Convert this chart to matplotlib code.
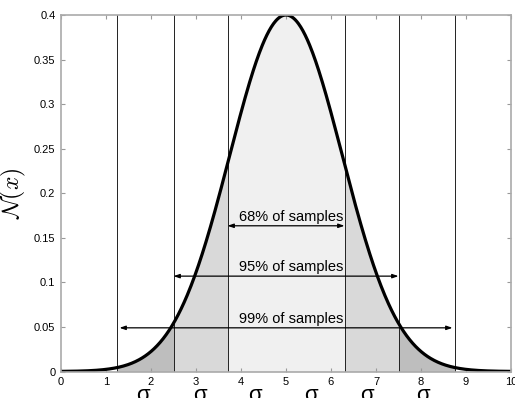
import numpy as np
import matplotlib
matplotlib.use("Agg")
import matplotlib.pyplot as plt

plt.rcParams['font.family'] = ['Liberation Sans', 'DejaVu Sans']
plt.rcParams['mathtext.fontset'] = 'cm'

# curve parameters
mu = 5.0
sigma = 1.25
peak = 0.4

# band edges (vertical lines) and their fill shades
edges = [1.25, 2.5, 3.7, 6.3, 7.5, 8.75]
bands = [(1.25, 2.5), (2.5, 3.7), (3.7, 6.3), (6.3, 7.5), (7.5, 8.75)]
band_shades = ['#bebebe', '#d9d9d9', '#f0f0f0', '#d9d9d9', '#bebebe']

# arrows: label, left, right, height
arrow_labels = ['68% of samples', '95% of samples', '99% of samples']
arrow_left = [3.7, 2.5, 1.3]
arrow_right = [6.3, 7.5, 8.7]
arrow_y = [0.1635, 0.107, 0.049]

sigma_label_x = [1.82, 3.09, 4.31, 5.56, 6.8, 8.04]

x = np.linspace(0, 10, 600)
y = peak * np.exp(-(x - mu) ** 2 / (2 * sigma ** 2))

fig = plt.figure(figsize=(5.15, 3.98), dpi=100)
ax = fig.add_axes([61 / 515, 26.5 / 398, 450 / 515, 356.5 / 398])

for (a, b), c in zip(bands, band_shades):
    m = (x >= a) & (x <= b)
    xx = np.concatenate([[a], x[m], [b]])
    yy = peak * np.exp(-(xx - mu) ** 2 / (2 * sigma ** 2))
    ax.fill_between(xx, 0, yy, color=c, lw=0)

for e in edges:
    ax.axvline(e, color='#222222', lw=0.7)

ax.plot(x, y, color='black', lw=2.3)

for lab, l, r, h in zip(arrow_labels, arrow_left, arrow_right, arrow_y):
    ax.annotate('', xy=(l, h), xytext=(r, h),
                arrowprops=dict(arrowstyle='<|-|>,head_length=0.35,head_width=0.12',
                                color='black', lw=0.9, shrinkA=0, shrinkB=0))
    ax.text(5.11, h + 0.0058, lab, ha='center', va='baseline', fontsize=10.5)

ax.set_xlim(0, 10)
ax.set_ylim(0, 0.4)
ax.set_xticks(range(0, 11))
ax.set_yticks(np.arange(0, 0.401, 0.05))
ax.set_yticklabels(['0', '0.05', '0.1', '0.15', '0.2', '0.25', '0.3', '0.35', '0.4'])
ax.tick_params(direction='in', length=3, width=0.8, color='#999999',
               labelsize=8, top=True, right=True, pad=4)
for s in ax.spines.values():
    s.set_color('#aaaaaa')
    s.set_linewidth(1.2)

ax.set_ylabel(r'$\mathcal{N}(x)$', fontsize=17, labelpad=4)

# big sigma labels below the axis, mostly cut off by the figure edge
for sx in sigma_label_x:
    fig.text((61 + sx * 45) / 515, -3 / 398, 'σ', ha='center', va='baseline', fontsize=16)

fig.savefig('out.png', dpi=100)
